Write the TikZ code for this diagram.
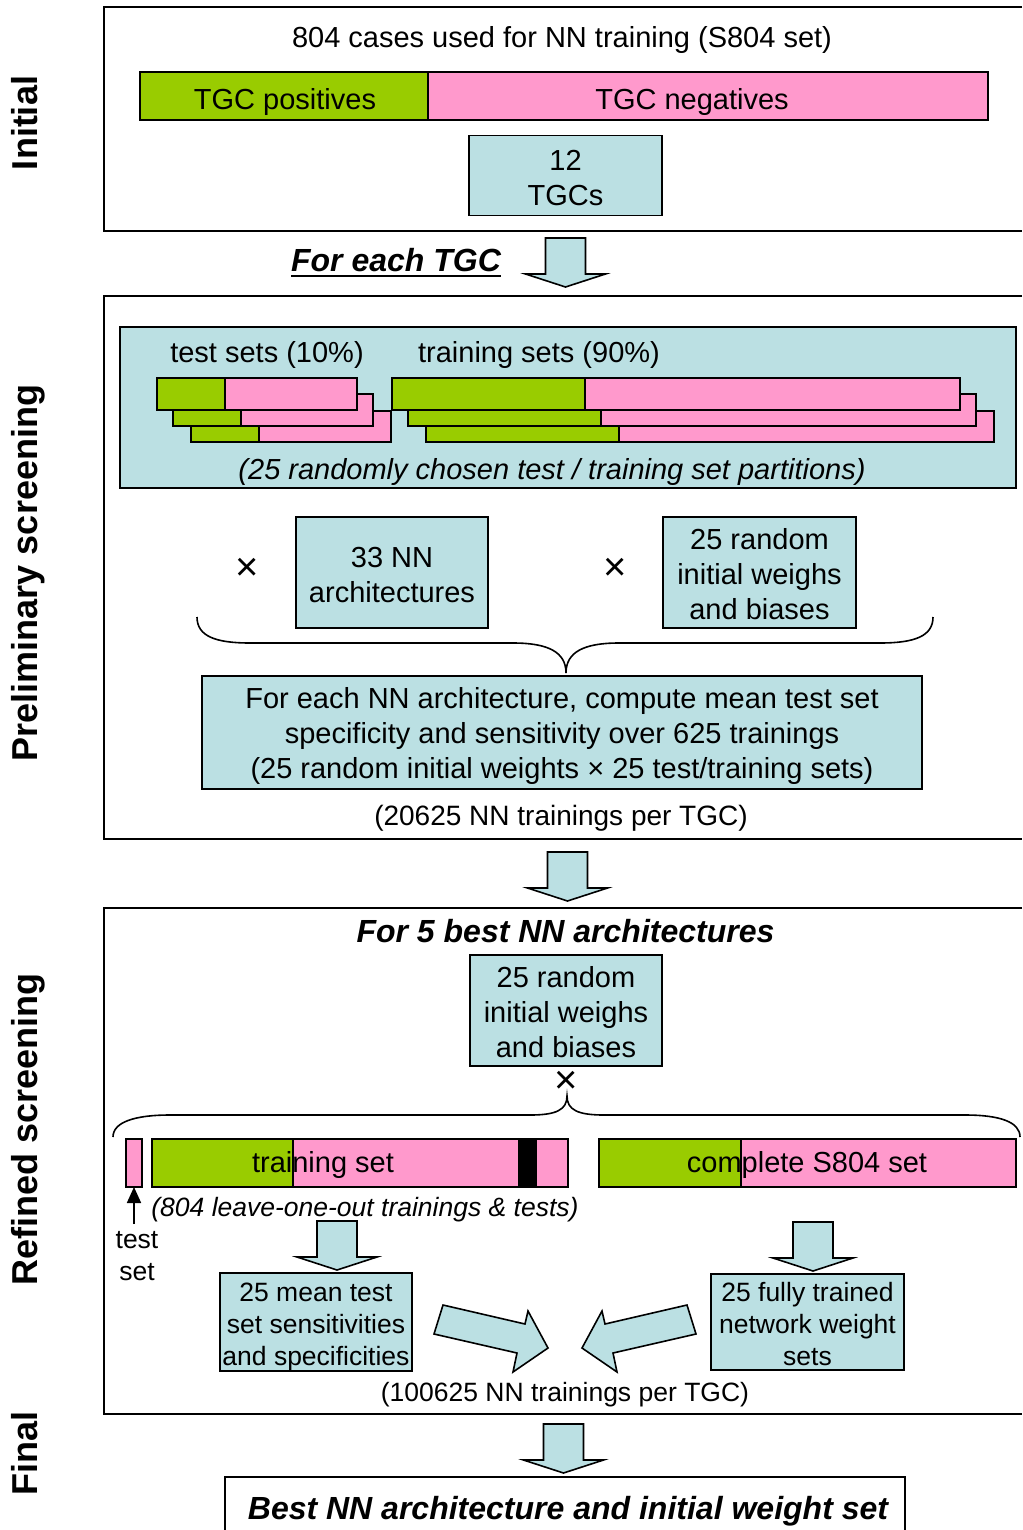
\documentclass[tikz,border=0pt]{standalone}
\usepackage{fontspec}
\setmainfont{Liberation Sans}
\usetikzlibrary{arrows.meta}
\definecolor{lgreen}{RGB}{153,204,0}
\definecolor{lpink}{RGB}{255,153,204}
\definecolor{lblue}{RGB}{187,224,227}
\newcommand{\fmain}{\fontsize{29}{35}\selectfont}
\newcommand{\fsmall}{\fontsize{26.5}{32}\selectfont}
\newcommand{\fhead}{\fontsize{32}{38}\selectfont\bfseries\itshape}
\newcommand{\fside}{\fontsize{36}{42}\selectfont\bfseries}
\newcommand{\ftimes}{\fontsize{40}{40}\selectfont}
\newcommand{\lift}[1]{\rule{0pt}{#1pt}}
\newcommand{\barseg}[6]{\node[seg, fill=#6, minimum width={(#4-#2)*1pt}, minimum height={(#5-#3)*1pt}] (#1) at (#2,#3) {};}
\tikzset{
  blk/.style={draw,fill=lblue,line width=1.6pt,line join=miter},
  downarr/.pic={\path[blk] (-20,0) -- (20,0) -- (20,36) -- (40,36) -- (0,49) -- (-40,36) -- (-20,36) -- cycle;}
}
\begin{document}
\begin{tikzpicture}[x=1pt,y=-1pt,
  every node/.style={inner sep=0pt,outer sep=0pt},
  txt/.style={font=\fmain,anchor=base},
  stxt/.style={font=\fsmall,anchor=base},
  htxt/.style={font=\fhead,anchor=base},
  side/.style={font=\fside,anchor=base,rotate=90},
  tms/.style={font=\ftimes},
  bluebox/.style={draw,fill=lblue,line width=1.6pt,font=\fmain,align=center},
  sbluebox/.style={bluebox,font=\fsmall},
  seg/.style={draw,line width=1.6pt,anchor=north west},
  frame/.style={line width=2pt},
  brace/.style={line width=1.6pt}
]
\useasboundingbox (0,0) rectangle (1022,1530);

% side labels
\node[side] (lInit) at (37,123) {Initial};
\node[side] (lPrel) at (37,573) {Preliminary screening};
\node[side] (lRef) at (37,1129) {Refined screening};
\node[side] (lFin) at (37,1453) {Final};

% ---------------- Initial
\draw[frame] (1022,7.5) -- (104,7.5) -- (104,231) -- (1022,231);
\node[txt] (t804) at (562,48) {804 cases used for NN training (S804 set)};
\barseg{pos}{140}{72}{428}{120}{lgreen}
\barseg{neg}{428}{72}{988}{120}{lpink}
\node[txt] (tpos) at (285,110) {TGC positives};
\node[txt] (tneg) at (692,110) {TGC negatives};
\node[bluebox,minimum width=193pt,minimum height=80pt] (tgcs) at (565.5,175.5) {\lift{25}12\\TGCs};

\node[htxt] (foreach) at (396,272) {For each TGC};
\draw[line width=2pt] ([yshift=-4pt]foreach.base west) -- ([yshift=-4pt]foreach.base east);
\pic at (565.5,238) {downarr};

% ---------------- Preliminary
\draw[frame] (1022,295.5) -- (104,295.5) -- (104,838.5) -- (1022,838.5);
\node[draw,fill=lblue,line width=1.6pt,anchor=north west,minimum width=896pt,minimum height=161pt] (partbox) at (120,327) {};
\node[txt] (ttest) at (267,362) {test sets (10\%)};
\node[txt] (ttrain) at (539,362) {training sets (90\%)};
\barseg{tbc}{191}{411}{259}{442}{lgreen}
\barseg{tbcp}{259}{411}{391}{442}{lpink}
\barseg{tbb}{173}{394}{241}{426}{lgreen}
\barseg{tbbp}{241}{394}{373}{426}{lpink}
\barseg{tba}{157}{378}{225}{410}{lgreen}
\barseg{tbap}{225}{378}{357}{410}{lpink}
\barseg{rbc}{426}{411}{619}{442}{lgreen}
\barseg{rbcp}{619}{411}{994}{442}{lpink}
\barseg{rbb}{408}{394}{601}{426}{lgreen}
\barseg{rbbp}{601}{394}{976}{426}{lpink}
\barseg{rba}{392}{378}{585}{410}{lgreen}
\barseg{rbap}{585}{378}{960}{410}{lpink}
\node[txt,font=\fmain\itshape] (tpart) at (552,479) {(25 randomly chosen test / training set partitions)};

\node[tms] (x1) at (247,569) {×};
\node[bluebox,minimum width=192pt,minimum height=111pt] (arch) at (392,572.5) {\lift{25}33 NN\\architectures};
\node[tms] (x2) at (615,569) {×};
\node[bluebox,minimum width=193pt,minimum height=111pt] (wts) at (759.5,572.5) {\lift{25}25 random\\initial weighs\\and biases};
\draw[brace] (197,617) .. controls (197,636) and (215,643) .. (250,643) -- (513,643) .. controls (548,643) and (566,652) .. (566,673) .. controls (566,652) and (584,643) .. (619,643) -- (880,643) .. controls (915,643) and (933,636) .. (933,617);
\node[bluebox,minimum width=720pt,minimum height=113pt] (mean) at (562,732.5) {\lift{28}For each NN architecture, compute mean test set\\specificity and sensitivity over 625 trainings\\(25 random initial weights × 25 test/training sets)};
\node[txt,font=\fontsize{28}{34}\selectfont] (t20625) at (561,825) {(20625 NN trainings per TGC)};

\pic at (567.5,852) {downarr};

% ---------------- Refined
\draw[frame] (1022,907.5) -- (104,907.5) -- (104,1413.5) -- (1022,1413.5);
\node[htxt] (best5) at (565.5,942) {For 5 best NN architectures};
\node[bluebox,minimum width=192pt,minimum height=111pt] (wts2) at (566,1010.5) {\lift{25}25 random\\initial weighs\\and biases};
\node[tms] (x3) at (566,1082) {×};
\draw[brace] (113,1137) .. controls (113,1122) and (135,1115) .. (170,1115) -- (530,1115) .. controls (556,1115) and (567,1110) .. (567,1096) .. controls (567,1110) and (578,1115) .. (604,1115) -- (965,1115) .. controls (1000,1115) and (1020,1122) .. (1020,1137);
\barseg{testbar}{126}{1139}{142}{1187}{lpink}
\barseg{trg}{152}{1139}{293}{1187}{lgreen}
\barseg{trp}{293}{1139}{568}{1187}{lpink}
\barseg{trk}{519}{1139}{536}{1187}{black}
\node[txt] (ttrset) at (323,1172) {training set};
\barseg{cg}{599}{1139}{741}{1187}{lgreen}
\barseg{cp}{741}{1139}{1016}{1187}{lpink}
\node[txt] (tcomp) at (807,1172) {complete S804 set};

\coordinate (tstart) at (134,1224);
\draw[line width=1.8pt,-{Triangle[length=16pt,width=14pt]}] (tstart) -- (testbar.south);
\node[stxt,font=\fsmall\itshape] (tloo) at (365,1216) {(804 leave-one-out trainings \& tests)};
\node[stxt] (ttest2) at (137,1248) {test};
\node[stxt] (tset2) at (137,1280) {set};
\pic at (337,1221) {downarr};
\pic at (813,1222) {downarr};
\node[sbluebox,minimum width=192pt,minimum height=96pt] (meanres) at (316,1322) {\lift{29}25 mean test\\set sensitivities\\and specificities};
\node[sbluebox,minimum width=193pt,minimum height=96pt] (fulltr) at (807.5,1322) {\lift{23}25 fully trained\\network weight\\sets};
\path[blk] (443,1305) -- (525,1324) -- (528,1311) -- (548,1348) -- (513,1372) -- (517,1353) -- (434,1334) -- cycle;
\path[blk] (687,1305) -- (605,1324) -- (602,1311) -- (582,1348) -- (617,1372) -- (613,1353) -- (696,1334) -- cycle;
\node[stxt] (t100625) at (565,1401) {(100625 NN trainings per TGC)};

% ---------------- Final
\pic at (563.5,1424) {downarr};
\draw[frame] (225,1531) -- (225,1477) -- (905,1477) -- (905,1531);
\node[htxt] (final) at (568,1519) {Best NN architecture and initial weight set};
\end{tikzpicture}
\end{document}
